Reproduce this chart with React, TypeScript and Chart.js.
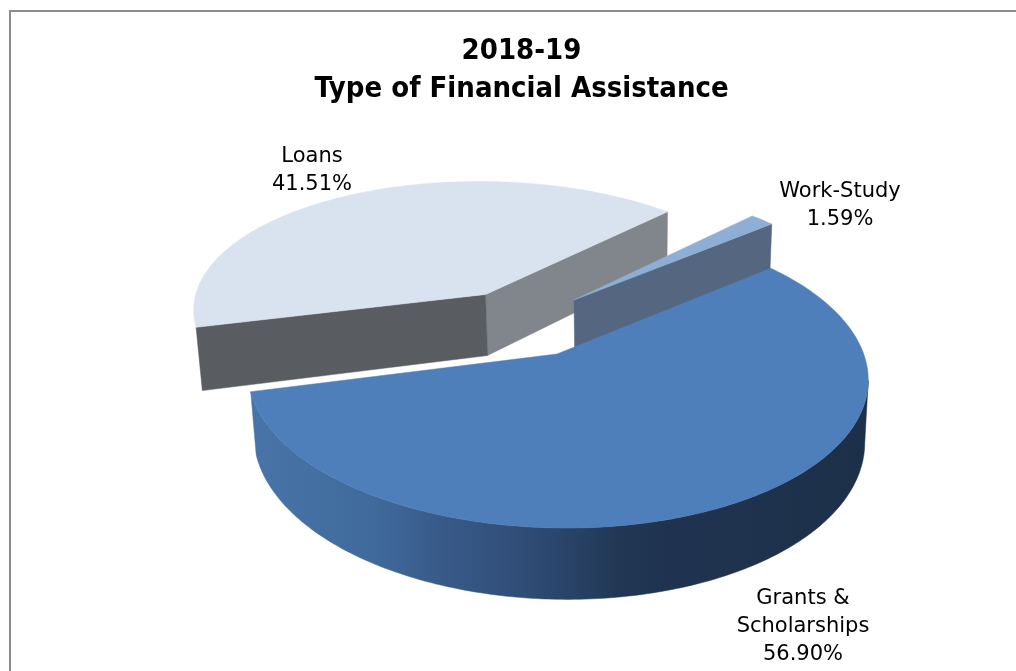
import React, { useEffect, useRef } from "react";
import { Chart, registerables } from "chart.js";

Chart.register(...registerables);

const categories = ["Grants & Scholarships", "Loans", "Work-Study"];
const shares = [56.9, 41.51, 1.59];
const sliceColors = ["#4f7fba", "#d9e3f0", "#8eaed5"];
const titleLines = ["2018-19", "Type of Financial Assistance"];
const labelLines = [["Grants &", "Scholarships", "56.90%"], ["Loans", "41.51%"], ["Work-Study", "1.59%"]];

const TITLE_FONT = '"DejaVu Sans Condensed", "DejaVu Sans", sans-serif';
const LABEL_FONT = '"DejaVu Sans", sans-serif';
// The projection of the tilted disk and each slice's place on the page
const A = 306.7, B = 8, D = 148.8, P = 0.145, WALL = 61;
const VANISH_X = 627, LEAN = 0.0146;
const frames = [
  { x: 557, y: 354, sx: 1, sy: 1 },
  { x: 485.5, y: 294.5, sx: 0.945, sy: 0.87 },
  { x: 574, y: 300, sx: 0.925, sy: 0.885 },
];
const labelPlaces = [
  { x: 803, y: 598.5 },
  { x: 312, y: 156.5 },
  { x: 840, y: 191.5 },
];
const cutColors = [
  ["#3b5f8c", "#3b5f8c"],
  ["#595c60", "#81868d"],
  ["#546680", "#546680"],
];

type Pt = [number, number];

function top(i: number, t: number): Pt {
  const f = frames[i];
  const u = Math.cos(t), v = Math.sin(t), w = 1 - P * v;
  return [f.x + (f.sx * (A * u + B * v)) / w, f.y + (f.sy * D * v) / w];
}
function base(i: number, t: number): Pt {
  const [x, y] = top(i, t);
  const w = 1 - P * Math.sin(t);
  return [x - (x - VANISH_X) * LEAN, y + WALL / w];
}
function apexBase(i: number): Pt {
  const f = frames[i];
  return [f.x - (f.x - VANISH_X) * LEAN, f.y + WALL];
}
function poly(ctx: CanvasRenderingContext2D, pts: Pt[], fill: string | CanvasGradient) {
  ctx.beginPath();
  pts.forEach(([x, y], k) => (k ? ctx.lineTo(x, y) : ctx.moveTo(x, y)));
  ctx.closePath();
  ctx.fillStyle = fill;
  ctx.fill();
  ctx.strokeStyle = fill;
  ctx.lineWidth = 0.5;
  ctx.stroke();
}
function samples(a: number, b: number): number[] {
  const n = Math.max(2, Math.ceil(((b - a) * 180) / Math.PI));
  const out: number[] = [];
  for (let k = 0; k <= n; k++) out.push(a + ((b - a) * k) / n);
  return out;
}

const pie3d = {
  id: "pie3d",
  beforeDatasetsDraw(chart: any) {
    const ctx: CanvasRenderingContext2D = chart.ctx;
    const arcs = chart.getDatasetMeta(0).data;
    // far slices first, the big front slice last
    [1, 2, 0].forEach((i) => {
      const arc = arcs[i];
      const s = arc.startAngle, e = arc.endAngle;
      const f = frames[i];
      const apex: Pt = [f.x, f.y];

      // curved outer wall, from the right-hand silhouette point round the front
      const from = Math.max(s, Math.ceil(s / (2 * Math.PI)) * 2 * Math.PI);
      const to = Math.min(e, from + Math.PI);
      if (to > from && Math.sin((from + to) / 2) > 0) {
        const all = samples(from, to);
        let right = 0;
        all.forEach((t, k) => {
          if (top(i, t)[0] > top(i, all[right])[0]) right = k;
        });
        const ts = all.slice(right);
        let fill: string | CanvasGradient = cutColors[i][0];
        if (i === 0) {
          const g = ctx.createLinearGradient(250, 0, 868, 0);
          g.addColorStop(0, "#4874a9");
          g.addColorStop(0.2, "#3f6a9b");
          g.addColorStop(0.31, "#385a89");
          g.addColorStop(0.45, "#2f4c76");
          g.addColorStop(0.6, "#213754");
          g.addColorStop(0.68, "#1f3350");
          g.addColorStop(1, "#1d3049");
          fill = g;
        }
        poly(ctx, [...ts.map((t) => top(i, t)), ...ts.slice().reverse().map((t) => base(i, t))], fill);
      }
      // flat cut faces, when they turn toward the viewer
      if (Math.cos(e) > 0) poly(ctx, [apex, top(i, e), base(i, e), apexBase(i)], cutColors[i][1]);
      if (Math.cos(s) < 0) poly(ctx, [apex, top(i, s), base(i, s), apexBase(i)], cutColors[i][0]);
      // top face
      poly(ctx, [apex, ...samples(s, e).map((t) => top(i, t))], arc.options.backgroundColor);
    });
    return false;
  },
  afterDraw(chart: any) {
    const ctx: CanvasRenderingContext2D = chart.ctx;
    ctx.save();
    ctx.fillStyle = "#8c8c8c";
    ctx.fillRect(9, 10, 2, 661);
    ctx.fillRect(9, 10, 1007, 2);
    ctx.fillStyle = "#000000";
    ctx.font = `21px ${LABEL_FONT}`;
    ctx.textAlign = "center";
    ctx.textBaseline = "middle";
    labelLines.forEach((lines, i) => {
      lines.forEach((line, k) => ctx.fillText(line, labelPlaces[i].x, labelPlaces[i].y + k * 28.2));
    });
    ctx.restore();
  },
};

export default function App() {
  const ref = useRef<HTMLCanvasElement>(null);
  useEffect(() => {
    const chart = new Chart(ref.current as HTMLCanvasElement, {
      type: "pie",
      data: {
        labels: categories,
        datasets: [{ data: shares, backgroundColor: sliceColors, borderWidth: 0 }],
      },
      options: {
        animation: false,
        responsive: false,
        rotation: 51,
        layout: { padding: { left: 27, top: 33 } },
        plugins: {
          legend: { display: false },
          tooltip: { enabled: false },
          title: {
            display: true,
            text: titleLines,
            color: "#000000",
            font: { family: TITLE_FONT, size: 29, weight: "bold", lineHeight: 1.3 },
            padding: 0,
          },
        },
      },
      plugins: [pie3d],
    } as any);
    return () => chart.destroy();
  }, []);
  return (
    <div style={{ position: "fixed", left: 0, top: 0, width: 1016, height: 671, background: "#fff" }}>
      <canvas ref={ref} width={1016} height={671} style={{ display: "block" }} />
    </div>
  );
}
